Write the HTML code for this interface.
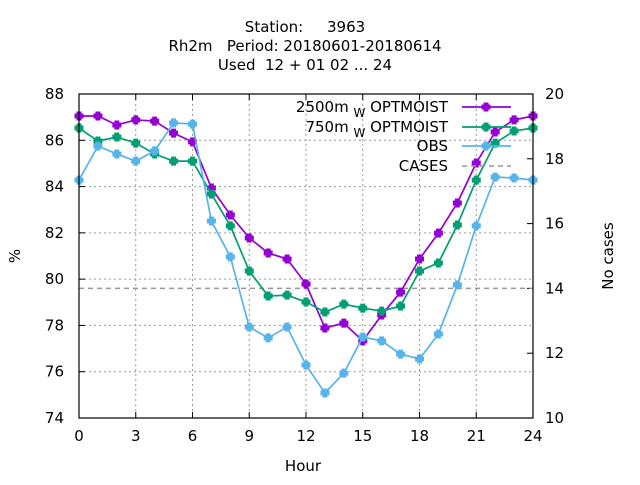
<!DOCTYPE html>
<html><head><meta charset="utf-8"><style>
body{margin:0;background:#fff}
svg{font-family:"DejaVu Sans",sans-serif;font-size:15px}
</style></head><body>
<svg width="640" height="480" viewBox="0 0 640 480">
<g id="g"></g>
</svg>
<script>
const hours=[0,1,2,3,4,5,6,7,8,9,10,11,12,13,14,15,16,17,18,19,20,21,22,23,24];
const s2500=[87.05,87.05,86.66,86.88,86.83,86.31,85.93,83.94,82.77,81.78,81.13,80.87,79.79,77.89,78.10,77.33,78.45,79.44,80.87,81.99,83.29,85.02,86.36,86.88,87.05];
const s750=[86.53,85.97,86.14,85.88,85.41,85.10,85.10,83.68,82.30,80.35,79.27,79.31,79.01,78.58,78.92,78.75,78.62,78.84,80.35,80.70,82.34,84.28,85.88,86.40,86.53];
const obs=[84.28,85.75,85.41,85.10,85.54,86.75,86.70,82.51,80.96,77.93,77.46,77.93,76.29,75.08,75.94,77.50,77.33,76.76,76.55,77.63,79.75,82.30,84.41,84.37,84.28];
const cases=14;
const xTicks=[0,3,6,9,12,15,18,21,24];
const yTicks=[74,76,78,80,82,84,86,88];
const y2Ticks=[10,12,14,16,18,20];
const L=79,R=533,T=94,B=418;
const X=h=>L+(h-0)/24*(R-L);
const Y=v=>B-(v-74)/14*(B-T);
const Y2=v=>B-(v-10)/10*(B-T);
const NS='http://www.w3.org/2000/svg';
const g=document.getElementById('g');
function mk(t,a,txt){const e=document.createElementNS(NS,t);for(const k in a)e.setAttribute(k,a[k]);if(txt!=null)e.textContent=txt;g.appendChild(e);return e;}
xTicks.forEach(h=>{if(h>0&&h<24){const e=mk('line',{x1:X(h),x2:X(h),y1:T,y2:B,stroke:'#999','stroke-dasharray':'2,3','stroke-width':1});

}});
yTicks.forEach(v=>{if(v>74&&v<88){const e=mk('line',{x1:L,x2:R,y1:Y(v),y2:Y(v),stroke:'#999','stroke-dasharray':'2,3','stroke-width':1});

}});
xTicks.forEach(h=>{mk('line',{x1:X(h),x2:X(h),y1:B,y2:B-6,stroke:'#000'});mk('line',{x1:X(h),x2:X(h),y1:T,y2:T+6,stroke:'#000'});
const t=mk('text',{x:X(h),y:B+23,'text-anchor':'middle'},h);

});
yTicks.forEach(v=>{mk('line',{x1:L,x2:L+6,y1:Y(v),y2:Y(v),stroke:'#000'});
const t=mk('text',{x:L-15,y:Y(v)+5,'text-anchor':'end'},v);

});
y2Ticks.forEach(v=>{mk('line',{x1:R,x2:R-6,y1:Y2(v),y2:Y2(v),stroke:'#000'});
const t=mk('text',{x:R+12,y:Y2(v)+5,'text-anchor':'start'},v);

});
const cl=mk('line',{x1:L,x2:R,y1:Y2(cases),y2:Y2(cases),stroke:'#999','stroke-dasharray':'5,4','stroke-width':1.5});


function marker(x,y,c){mk('path',{d:`M${x-2.5},${y-4.5}h5v2h2v5h-2v2h-5v-2h-2v-5h2z`,fill:c});}
function series(vals,c,name){const p=mk('polyline',{points:vals.map((v,i)=>X(hours[i])+','+Y(v)).join(' '),fill:'none',stroke:c,'stroke-width':1.7});


vals.forEach((v,i)=>marker(X(hours[i]),Y(v),c));}
series(s2500,'#9400d3','series-2500m');
series(s750,'#009e73','series-750m');
series(obs,'#56b4e9','series-obs');
const fr=mk('rect',{x:L,y:T,width:R-L,height:B-T,fill:'none',stroke:'#000','stroke-width':1.2});


const leg=[['2500m','#9400d3',107,true],['750m','#009e73',127,true],['OBS','#56b4e9',146,false],['CASES','#999',166,false]];
leg.forEach(([n,c,y,sub])=>{
let t;
if(sub){t=mk('text',{x:448,y:y+5,'text-anchor':'end'});t.innerHTML=n+' <tspan dy="5" font-size="12">W</tspan><tspan dy="-5"> OPTMOIST</tspan>';}
else t=mk('text',{x:448,y:y+5,'text-anchor':'end'},n);


const l=mk('line',{x1:462,x2:511,y1:y,y2:y,stroke:c,'stroke-width':n==='CASES'?1.5:1.7,'stroke-dasharray':n==='CASES'?'5,4':'none'});


if(n!=='CASES')marker(486,y,c);
});
[['Station:     3963',32],['Rh2m   Period: 20180601-20180614',51],['Used  12 + 01 02 ... 24',70]].forEach(([s,y])=>{
const t=mk('text',{x:305,y:y,'text-anchor':'middle','xml:space':'preserve'},s);t.style.whiteSpace='pre';

});
let t=mk('text',{x:303,y:471,'text-anchor':'middle'},'Hour');


t=mk('text',{x:20,y:256,'text-anchor':'middle',transform:'rotate(-90 20 256)'},'%');


t=mk('text',{x:613,y:256,'text-anchor':'middle',transform:'rotate(-90 613 256)'},'No cases');


</script>
</body></html>
